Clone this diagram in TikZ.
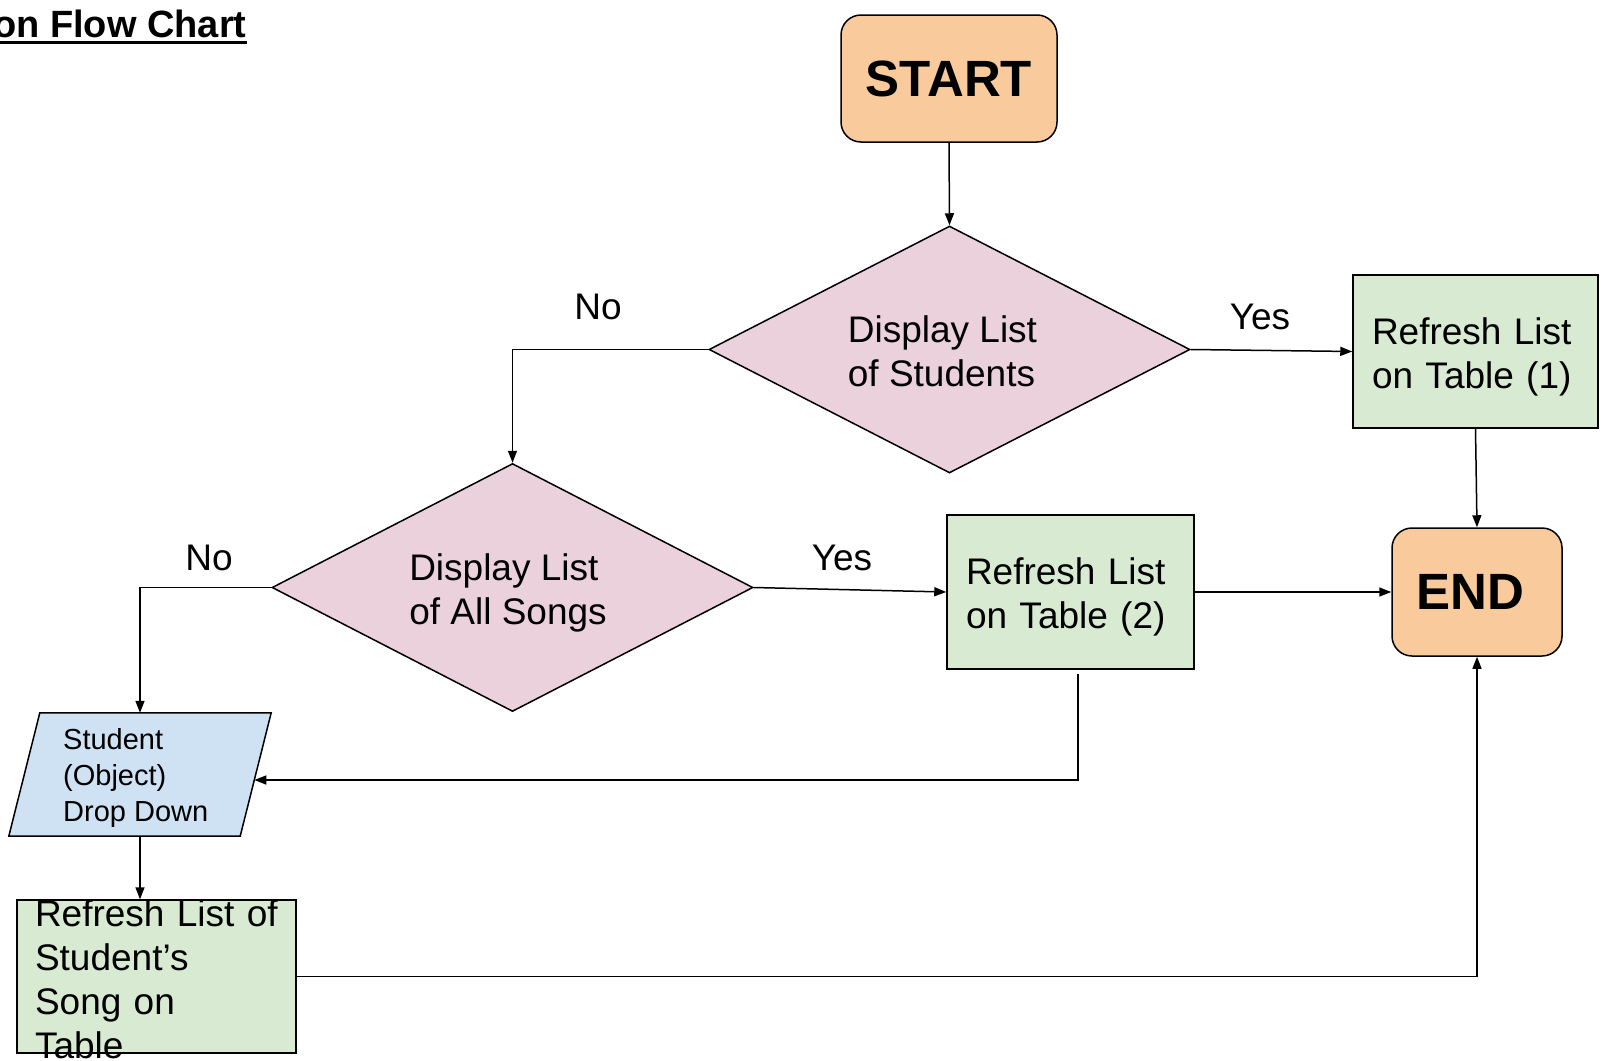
\documentclass[tikz,border=0pt]{standalone}
\usepackage{fontspec}
\setmainfont{Liberation Sans}
\usetikzlibrary{shapes.geometric,arrows.meta,calc}
\definecolor{termfill}{HTML}{F9CB9C}
\definecolor{decfill}{HTML}{EAD1DC}
\definecolor{procfill}{HTML}{D9EAD3}
\definecolor{iofill}{HTML}{CFE2F3}
\newcommand{\firststrut}{\rule{0pt}{37pt}}
\begin{document}
\begin{tikzpicture}[x=1pt,y=-1pt,
  every node/.style={font=\fontsize{37}{44}\selectfont},
  term/.style={draw=black, line width=1.5pt, fill=termfill, rounded corners=20pt, inner sep=0pt, font=\fontsize{51}{58}\selectfont\bfseries},
  dec/.style={draw=black, line width=1.5pt, fill=decfill, diamond, inner sep=0pt},
  proc/.style={draw=black, line width=1.5pt, fill=procfill, rectangle, inner ysep=0pt, inner xsep=19pt, align=left},
  lbl/.style={inner sep=0pt},
  arr/.style={line width=1.5pt, -{Triangle[length=12pt,width=9pt]}}]
\useasboundingbox (0,0) rectangle (1616,1060);

% title
\node[lbl, anchor=base west, font=\fontsize{38}{44}\selectfont\bfseries] (title) at (-7,37) {on Flow Chart};
\draw[line width=3pt] ([yshift=-5pt]title.base west) -- ([yshift=-5pt]title.base east);

% nodes
\node[term, minimum width=216pt, minimum height=127pt] (start) at (949,78.5) {START};
\node[dec, minimum width=481pt, minimum height=247pt] (d1) at (949.5,349.5) {};
\node[lbl, align=left] (d1t) at (942.5,351) {Display List\\of Students};
\node[proc, text width=207pt, minimum height=153pt] (r1) at (1475.5,351.5) {\firststrut Refresh List\\on Table (1)};
\node[dec, minimum width=481pt, minimum height=248pt] (d2) at (512.5,587.5) {};
\node[lbl, align=left] (d2t) at (508,593) {Display List\\of All Songs};
\node[proc, text width=209pt, minimum height=154pt] (r2) at (1070.5,592) {\firststrut Refresh List\\on Table (2)};
\node[term, minimum width=170pt, minimum height=128pt] (end) at (1477,592) {END\hspace*{14pt}};

\node[minimum width=231pt, minimum height=123pt, inner sep=0pt] (para) at (140,774.5) {};
\draw[line width=1.5pt, fill=iofill] ($(para.north west)+(15.5,0)$) -- ($(para.north east)+(15.5,0)$) -- ($(para.south east)+(-15.5,0)$) -- ($(para.south west)+(-15.5,0)$) -- cycle;
\node[lbl, align=left, anchor=west, font=\fontsize{29}{36}\selectfont] (parat) at (63,778) {Student\\(Object)\\Drop Down};

\node[draw=black, line width=1.5pt, fill=procfill, minimum width=279pt, minimum height=153pt, inner sep=0pt] (r3) at (156.5,976.5) {};
\node[lbl, align=left, text width=243pt] (r3t) at ([yshift=-3pt]r3.center) {Refresh List of\\Student’s\\Song on\\Table};

% labels
\node[lbl] (no1) at (598,307) {No};
\node[lbl] (yes1) at (1260,317) {Yes};
\node[lbl] (no2) at (209,558) {No};
\node[lbl] (yes2) at (842,558) {Yes};

% connectors
\draw[arr] (start.south) -- (d1.north);
\draw[arr] (d1.west) -| (d2.north);
\draw[arr] (d1.east) -- (r1.west);
\draw[arr] (r1.south) -- (end.north);
\draw[arr] (d2.west) -| (para.north);
\draw[arr] (d2.east) -- (r2.west);
\draw[arr] (r2.east) -- (end.west);
\draw[arr] ([xshift=7.5pt,yshift=-4pt]r2.south) |- ([xshift=-1.4pt,yshift=-5.5pt]para.east);
\draw[arr] (para.south) -- (para.south |- r3.north);
\draw[arr] (r3.east) -| (end.south);
\end{tikzpicture}
\end{document}
